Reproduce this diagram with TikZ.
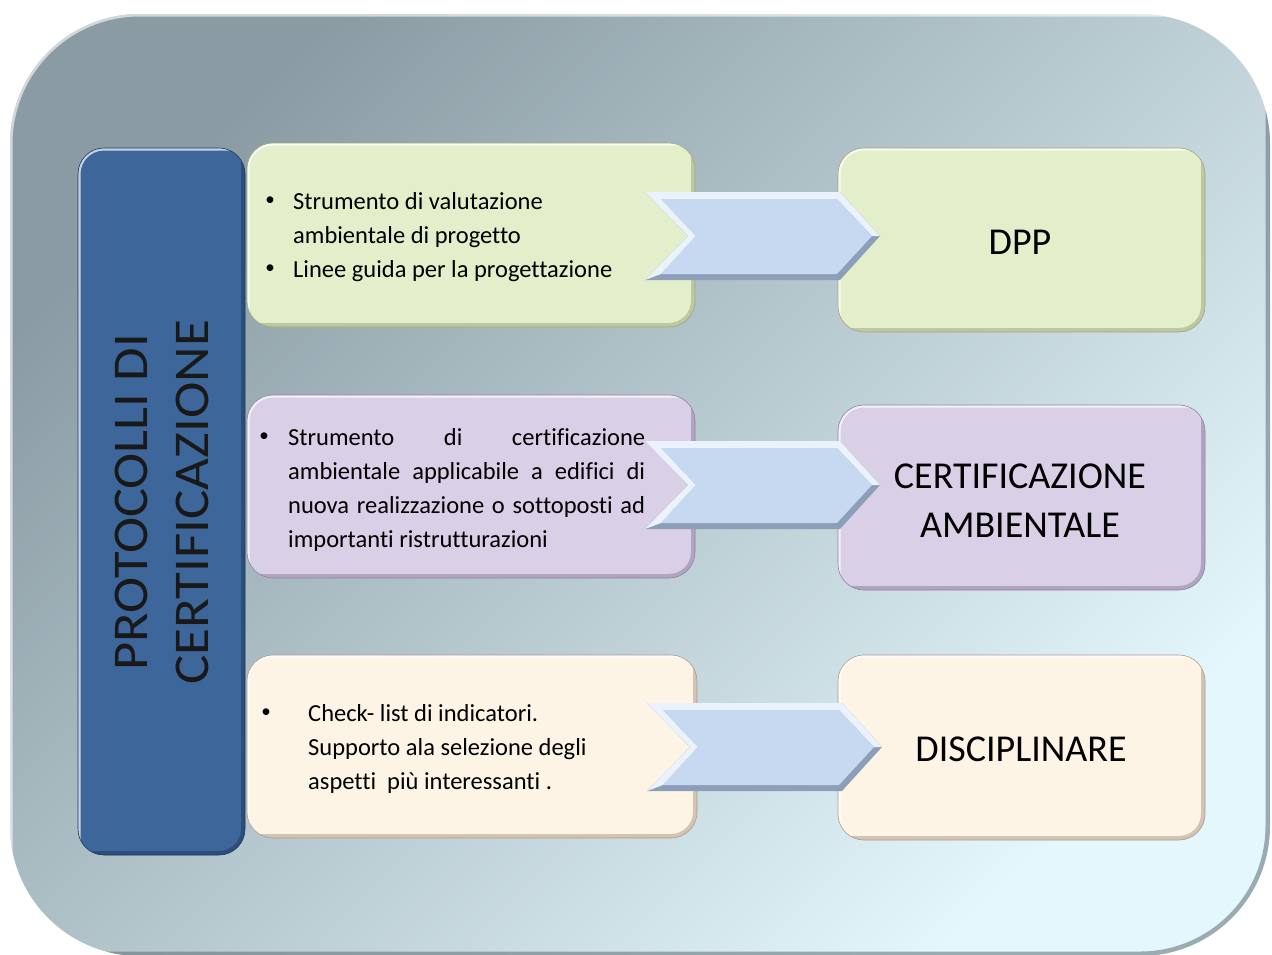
\documentclass[tikz,border=0pt]{standalone}
\usepackage{fontspec}
\usepackage{graphicx}
\setmainfont{Carlito}[Ligatures=NoCommon]
\definecolor{bgA}{HTML}{8A9BA3}
\definecolor{bgB}{HTML}{E4F7FC}
\definecolor{bgD}{HTML}{5E6E76}
\definecolor{barF}{HTML}{3D679B}
\definecolor{barD}{HTML}{1F3B60}
\definecolor{grF}{HTML}{E3EFCA}
\definecolor{grD}{HTML}{9DA87E}
\definecolor{puF}{HTML}{D9CFE6}
\definecolor{puD}{HTML}{8F82A2}
\definecolor{crF}{HTML}{FEF4E6}
\definecolor{crD}{HTML}{AE9C8A}
\definecolor{chF}{HTML}{C6D9F0}
\definecolor{chL}{HTML}{EAF2FB}
\definecolor{chD}{HTML}{8C9EB8}
\newcommand\mychev[2]{%
  \fill[chD] (#1,#2) -- ({#1+195},#2) -- ({#1+235},{#2+44}) -- ({#1+195},{#2+88}) -- (#1,{#2+88}) -- ({#1+43},{#2+44}) -- cycle;
  \fill[chL] (#1,{#2+88}) -- ({#1+43},{#2+44}) -- (#1,#2) -- ({#1+195},#2) -- ({#1+235},{#2+44})
     -- ({#1+227},{#2+44}) -- ({#1+192},{#2+7}) -- ({#1+16},{#2+7}) -- ({#1+51},{#2+44}) -- ({#1+16},{#2+82}) -- cycle;
  \fill[chF] ({#1+16},{#2+7}) -- ({#1+192},{#2+7}) -- ({#1+227},{#2+44}) -- ({#1+192},{#2+82}) -- ({#1+16},{#2+82}) -- ({#1+51},{#2+44}) -- cycle;
}
\tikzset{
  panel/.style 2 args={fill=#1, draw=#2, line width=0.6pt, rounded corners=26pt, inner sep=0pt,
    path picture={
      \draw[#2, line width=8pt, opacity=0.55] (path picture bounding box.north east) -- (path picture bounding box.south east) -- (path picture bounding box.south west);
      \draw[white, line width=5pt, opacity=0.7] (path picture bounding box.south west) -- (path picture bounding box.north west) -- (path picture bounding box.north east);
    }},
  bgpanel/.style={top color=bgA, bottom color=bgB, shading angle=45, rounded corners=130pt, inner sep=0pt,
    path picture={
      \draw[bgD, line width=9pt, opacity=0.55] (path picture bounding box.north east) -- (path picture bounding box.south east) -- (path picture bounding box.south west);
      \draw[white, line width=5pt, opacity=0.6] (path picture bounding box.south west) -- (path picture bounding box.north west) -- (path picture bounding box.north east);
    }},
  bt/.style={font=\fontsize{24.5}{30}\selectfont, inner sep=0pt, anchor=base west},
  bul/.style={font=\fontsize{19}{22}\selectfont, inner sep=0pt, anchor=center},
  big/.style={font=\fontsize{38}{46}\selectfont, inner sep=0pt, anchor=base},
  vt/.style={font=\fontsize{50}{60}\selectfont, inner sep=0pt, anchor=base, rotate=90, text=black!90},
}
\begin{document}
\begin{tikzpicture}[x=1pt,y=-1pt]
\useasboundingbox (0,0) rectangle (1272,954);
\node[bgpanel, minimum width=1260pt, minimum height=942pt] (bg) at (640,485) {};
% left column
\node[panel={barF}{barD}, minimum width=167pt, minimum height=707pt] (bar) at (161.5,501.5) {};
\node[vt] (v1) at (147,502.5) {\scalebox{1.09}[1]{PROTOCOLLI DI}};
\node[vt] (v2) at (208,502.5) {\scalebox{1.1}[1]{CERTIFICAZIONE}};
% boxes
\node[panel={grF}{grD}, minimum width=448pt, minimum height=184pt] (g1) at (471,235) {};
\node[panel={grF}{grD}, minimum width=367pt, minimum height=184pt] (g2) at (1021.5,240) {};
\node[panel={puF}{puD}, minimum width=448pt, minimum height=183pt] (p1) at (471,486.5) {};
\node[panel={puF}{puD}, minimum width=367pt, minimum height=185pt] (p2) at (1021.5,497.5) {};
\node[panel={crF}{crD}, minimum width=450pt, minimum height=183pt] (c1) at (472,746.5) {};
\node[panel={crF}{crD}, minimum width=367pt, minimum height=185pt] (c2) at (1021.5,747.5) {};
% texts box 1
\node[bul] (g1u1) at (270,201) {•};
\node[bt] (g1t1) at (293,209) {Strumento di valutazione};
\node[bt] (g1t2) at (293,243) {ambientale di progetto};
\node[bul] (g1u2) at (270,269) {•};
\node[bt] (g1t3) at (293,277) {Linee guida per la progettazione};
% texts box 2
\node[bul] (p1u1) at (264,437) {•};
\node[bt] (p1t1) at (288,445) {\makebox[357pt][s]{Strumento di certificazione}};
\node[bt] (p1t2) at (288,479) {\makebox[357pt][s]{ambientale applicabile a edifici di}};
\node[bt] (p1t3) at (288,513) {\makebox[357pt][s]{nuova realizzazione o sottoposti ad}};
\node[bt] (p1t4) at (288,547) {importanti ristrutturazioni};
% texts box 3
\node[bul] (c1u1) at (266,713) {•};
\node[bt] (c1t1) at (308,721) {Check- list di indicatori.};
\node[bt] (c1t2) at (308,755) {Supporto ala selezione degli};
\node[bt] (c1t3) at (308,789) {aspetti\ \ più interessanti .};
% right texts
\node[big] (dpp) at (1020,254) {DPP};
\node[big] (ca1) at (1020,488) {CERTIFICAZIONE};
\node[big] (ca2) at (1020,537) {AMBIENTALE};
\node[big] (dis) at (1021,761) {DISCIPLINARE};
% chevrons
\mychev{645}{192}
\mychev{645}{441}
\mychev{647}{703}
\end{tikzpicture}
\end{document}
